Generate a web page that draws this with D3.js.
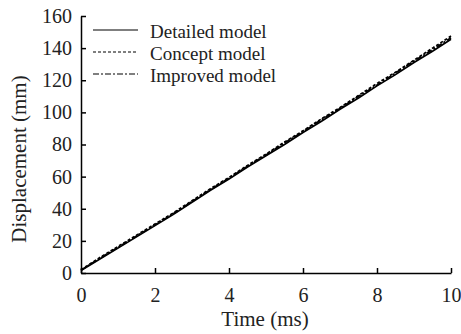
<!DOCTYPE html>
<html><head><meta charset="utf-8">
<script src="https://cdn.jsdelivr.net/npm/d3@7"></script>
<style>body{margin:0;background:#fff}svg{display:block}</style>
</head><body>
<svg id="c" width="461" height="334"></svg>
<script>
const time = [0,0.5,1,1.5,2,2.5,3,3.5,4,4.5,5,5.5,6,6.5,7,7.5,8,8.5,9,9.5,10];
const detailed = [1.5,8.5,15.5,22.5,29.5,36.5,44,51.5,58.5,66,73,80,87.5,94.5,102,109,116.5,123.5,131,138,145.5];
const concept  = [2,9.5,16.5,23.5,30.5,37.5,45,52.5,59.5,67,74,81.5,88.5,96,103,110.5,118,125,132.5,140,147.5];
const improved = [1.8,9,16,23,30,37,44.5,52,59,66.5,73.5,81,88,95.5,102.5,110,117,124.5,132,139,146.5];
const seriesNames = ["Detailed model","Concept model","Improved model"];
const xTicks = [0,2,4,6,8,10];
const yTicks = [0,20,40,60,80,100,120,140,160];

const svg = d3.select("#c");
const font = "'Liberation Serif','Times New Roman',serif";
const x = d3.scaleLinear().domain([0,10]).range([81,451]);
const y = d3.scaleLinear().domain([0,160]).range([273,16]);

const xAxis = d3.axisBottom(x).tickValues(xTicks).tickSizeInner(-5).tickSizeOuter(0).tickPadding(15).tickFormat(d3.format("d"));
const yAxis = d3.axisLeft(y).tickValues(yTicks).tickSizeInner(-5).tickSizeOuter(0).tickPadding(9).tickFormat(d3.format("d"));

const gx = svg.append("g").attr("transform","translate(0,273)").call(xAxis);
const gy = svg.append("g").attr("transform","translate(81,0)").call(yAxis);
[gx,gy].forEach(g=>{
  g.selectAll("path").attr("stroke","#000").attr("stroke-width",1.5);
  g.selectAll("line").attr("stroke","#000").attr("stroke-width",1.5);
  g.selectAll("text").attr("font-family",font).attr("font-size",20).attr("fill","#222");
});

const series = [
  {name:seriesNames[0], vals:detailed, dash:null},
  {name:seriesNames[1], vals:concept, dash:"3,2"},
  {name:seriesNames[2], vals:improved, dash:"6,2,2,2"}
];
const line = d3.line().x(d=>x(d[0])).y(d=>y(d[1]));
series.forEach(s=>{
  svg.append("path").datum(time.map((t,i)=>[t,s.vals[i]]))
    .attr("d",line).attr("fill","none").attr("stroke","#000").attr("stroke-width",1.7)
    .attr("stroke-dasharray",s.dash);
});

const legY = [30,52,74];
series.forEach((s,i)=>{
  svg.append("line").attr("x1",93).attr("x2",138).attr("y1",legY[i]).attr("y2",legY[i])
    .attr("stroke","#000").attr("stroke-width",1.2).attr("stroke-dasharray",s.dash);
  svg.append("text").attr("x",150).attr("y",legY[i]+8).text(s.name)
    .attr("font-family",font).attr("font-size",19).attr("fill","#222");
});

svg.append("text").attr("x",265).attr("y",326).attr("text-anchor","middle")
  .attr("font-family",font).attr("font-size",21).attr("fill","#222").text("Time (ms)");
svg.append("text").attr("transform","translate(26,159) rotate(-90)").attr("text-anchor","middle")
  .attr("font-family",font).attr("font-size",21).attr("fill","#222").text("Displacement (mm)");
</script>
</body></html>
